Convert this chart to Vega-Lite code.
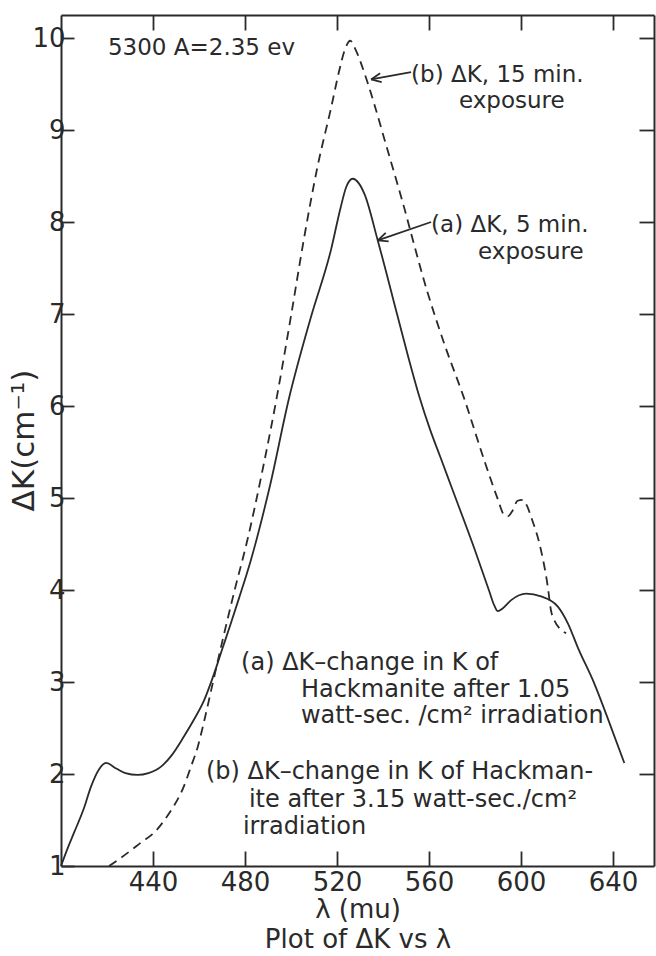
{
  "$schema": "https://vega.github.io/schema/vega-lite/v6.json",
  "width": 593,
  "height": 851,
  "autosize": {"type": "none"},
  "padding": {"left": 61, "top": 15, "right": 2, "bottom": 90},
  "background": "white",
  "config": {
    "view": {"stroke": null},
    "font": "DejaVu Sans",
    "axis": {
      "domainColor": "#2a2a2a", "domainWidth": 2, "tickColor": "#2a2a2a", "tickWidth": 1.8,
      "labelColor": "#2a2a2a", "titleColor": "#2a2a2a", "grid": false,
      "labelFont": "DejaVu Sans", "titleFont": "DejaVu Sans", "titleFontWeight": "normal"
    }
  },
  "datasets": {
    "curves": [
      {"wl": 400, "dk": 1.0, "series": "a"}, {"wl": 403, "dk": 1.2, "series": "a"}, {"wl": 405.8, "dk": 1.37, "series": "a"},
      {"wl": 410, "dk": 1.63, "series": "a"}, {"wl": 413, "dk": 1.86, "series": "a"}, {"wl": 416.5, "dk": 2.05, "series": "a"},
      {"wl": 419.6, "dk": 2.12, "series": "a"}, {"wl": 424, "dk": 2.06, "series": "a"}, {"wl": 428, "dk": 2.01, "series": "a"},
      {"wl": 433.3, "dk": 1.99, "series": "a"}, {"wl": 438, "dk": 2.01, "series": "a"}, {"wl": 443.5, "dk": 2.08, "series": "a"},
      {"wl": 448, "dk": 2.2, "series": "a"}, {"wl": 453.5, "dk": 2.41, "series": "a"}, {"wl": 458, "dk": 2.6, "series": "a"},
      {"wl": 462.2, "dk": 2.8, "series": "a"}, {"wl": 466, "dk": 3.05, "series": "a"}, {"wl": 470, "dk": 3.35, "series": "a"},
      {"wl": 474, "dk": 3.65, "series": "a"}, {"wl": 477.5, "dk": 3.92, "series": "a"}, {"wl": 482.6, "dk": 4.33, "series": "a"},
      {"wl": 491, "dk": 5.15, "series": "a"}, {"wl": 499, "dk": 6.07, "series": "a"}, {"wl": 508.7, "dk": 6.97, "series": "a"},
      {"wl": 517.4, "dk": 7.7, "series": "a"}, {"wl": 521.5, "dk": 8.15, "series": "a"}, {"wl": 524, "dk": 8.38, "series": "a"},
      {"wl": 526.8, "dk": 8.47, "series": "a"}, {"wl": 529.5, "dk": 8.42, "series": "a"}, {"wl": 532, "dk": 8.3, "series": "a"},
      {"wl": 537.7, "dk": 7.8, "series": "a"}, {"wl": 546.4, "dk": 6.97, "series": "a"}, {"wl": 551, "dk": 6.53, "series": "a"},
      {"wl": 555.8, "dk": 6.1, "series": "a"}, {"wl": 560.5, "dk": 5.74, "series": "a"}, {"wl": 565, "dk": 5.44, "series": "a"},
      {"wl": 569.6, "dk": 5.13, "series": "a"}, {"wl": 580, "dk": 4.43, "series": "a"}, {"wl": 586, "dk": 4.0, "series": "a"},
      {"wl": 588.4, "dk": 3.83, "series": "a"}, {"wl": 589.9, "dk": 3.77, "series": "a"}, {"wl": 592, "dk": 3.8, "series": "a"},
      {"wl": 595.7, "dk": 3.89, "series": "a"}, {"wl": 602.2, "dk": 3.96, "series": "a"}, {"wl": 608.7, "dk": 3.93, "series": "a"},
      {"wl": 616, "dk": 3.82, "series": "a"}, {"wl": 620.5, "dk": 3.63, "series": "a"}, {"wl": 624.6, "dk": 3.38, "series": "a"},
      {"wl": 631.9, "dk": 2.98, "series": "a"}, {"wl": 639.1, "dk": 2.51, "series": "a"}, {"wl": 644.9, "dk": 2.12, "series": "a"},
      {"wl": 420.9, "dk": 1.0, "series": "b"}, {"wl": 425, "dk": 1.07, "series": "b"}, {"wl": 430.4, "dk": 1.17, "series": "b"},
      {"wl": 435, "dk": 1.26, "series": "b"}, {"wl": 440.4, "dk": 1.36, "series": "b"}, {"wl": 445, "dk": 1.5, "series": "b"},
      {"wl": 449, "dk": 1.65, "series": "b"}, {"wl": 453, "dk": 1.84, "series": "b"}, {"wl": 456.5, "dk": 2.08, "series": "b"},
      {"wl": 459.5, "dk": 2.3, "series": "b"}, {"wl": 462, "dk": 2.55, "series": "b"}, {"wl": 466, "dk": 2.99, "series": "b"},
      {"wl": 470.3, "dk": 3.46, "series": "b"}, {"wl": 475.5, "dk": 4.0, "series": "b"}, {"wl": 481, "dk": 4.54, "series": "b"},
      {"wl": 488, "dk": 5.35, "series": "b"}, {"wl": 494, "dk": 6.12, "series": "b"}, {"wl": 500, "dk": 6.98, "series": "b"},
      {"wl": 505.5, "dk": 7.8, "series": "b"}, {"wl": 511.5, "dk": 8.6, "series": "b"}, {"wl": 517.5, "dk": 9.25, "series": "b"},
      {"wl": 521, "dk": 9.65, "series": "b"}, {"wl": 523.5, "dk": 9.88, "series": "b"}, {"wl": 525.7, "dk": 9.97, "series": "b"},
      {"wl": 528.3, "dk": 9.86, "series": "b"}, {"wl": 531.9, "dk": 9.62, "series": "b"}, {"wl": 536.2, "dk": 9.28, "series": "b"},
      {"wl": 540.6, "dk": 8.9, "series": "b"}, {"wl": 547.8, "dk": 8.28, "series": "b"}, {"wl": 559.4, "dk": 7.23, "series": "b"},
      {"wl": 567, "dk": 6.65, "series": "b"}, {"wl": 575.3, "dk": 6.08, "series": "b"}, {"wl": 584, "dk": 5.41, "series": "b"},
      {"wl": 590, "dk": 4.98, "series": "b"}, {"wl": 592.5, "dk": 4.82, "series": "b"}, {"wl": 594.2, "dk": 4.8, "series": "b"},
      {"wl": 596, "dk": 4.85, "series": "b"}, {"wl": 598.5, "dk": 4.97, "series": "b"}, {"wl": 600.7, "dk": 4.98, "series": "b"},
      {"wl": 602.5, "dk": 4.92, "series": "b"}, {"wl": 604.3, "dk": 4.8, "series": "b"}, {"wl": 608.7, "dk": 4.43, "series": "b"},
      {"wl": 611.6, "dk": 4.04, "series": "b"}, {"wl": 613, "dk": 3.78, "series": "b"}, {"wl": 614.5, "dk": 3.67, "series": "b"},
      {"wl": 619.6, "dk": 3.53, "series": "b"}
    ],
    "upper": [
      {"wl": 420.4, "dk": 9.82, "text": "5300 A=2.35 ev"},
      {"wl": 552.2, "dk": 9.52, "text": "(b) ΔK, 15 min."},
      {"wl": 573, "dk": 9.24, "text": "exposure"},
      {"wl": 560.9, "dk": 7.89, "text": "(a) ΔK, 5 min."},
      {"wl": 581.3, "dk": 7.6, "text": "exposure"}
    ],
    "lower": [
      {"wl": 478.3, "dk": 3.13, "text": "(a) ΔK–change in K of"},
      {"wl": 504.3, "dk": 2.84, "text": "Hackmanite after 1.05"},
      {"wl": 504.3, "dk": 2.55, "text": "watt-sec. /cm² irradiation"},
      {"wl": 463, "dk": 1.95, "text": "(b) ΔK–change in K of Hackman-"},
      {"wl": 481.7, "dk": 1.64, "text": "ite after 3.15 watt-sec./cm²"},
      {"wl": 479.1, "dk": 1.35, "text": "irradiation"}
    ],
    "arrows": [
      {"id": "a", "x0": 560.9, "y0": 8.0, "x1": 537.7, "y1": 7.8},
      {"id": "b", "x0": 552.2, "y0": 9.63, "x1": 534.8, "y1": 9.55}
    ]
  },
  "layer": [
    {
      "data": {"name": "curves"},
      "transform": [{"filter": "datum.series === 'a'"}],
      "mark": {"type": "line", "interpolate": "monotone", "stroke": "#2a2a2a", "strokeWidth": 1.8},
      "encoding": {
        "x": {"field": "wl", "type": "quantitative",
          "scale": {"domain": [400, 657.8], "nice": false, "zero": false},
          "axis": {"orient": "bottom", "values": [440, 480, 520, 560, 600, 640], "tickSize": -15,
            "labelFontSize": 26, "labelPadding": 18, "labelFlush": false,
            "title": ["λ (mu)", "Plot of ΔK vs λ"], "titleFontSize": 26, "titleLineHeight": 30,
            "titleY": 51, "titleBaseline": "alphabetic"}},
        "y": {"field": "dk", "type": "quantitative",
          "scale": {"domain": [1, 10.25], "nice": false, "zero": false},
          "axis": {"orient": "left", "values": [1, 2, 3, 4, 5, 6, 7, 8, 9, 10], "tickSize": -13,
            "labelFontSize": 26, "labelPadding": 9, "labelFlush": false,
            "title": "ΔK(cm⁻¹)", "titleFontSize": 31, "titleAngle": -90, "titleX": -28, "titleY": 425,
            "titleAlign": "center", "titleBaseline": "alphabetic"}}
      }
    },
    {
      "data": {"name": "curves"},
      "transform": [{"filter": "datum.series === 'b'"}],
      "mark": {"type": "line", "interpolate": "monotone", "stroke": "#2a2a2a", "strokeWidth": 1.8, "strokeDash": [9, 6]},
      "encoding": {
        "x": {"field": "wl", "type": "quantitative",
          "axis": {"orient": "top", "values": [440, 480, 520, 560, 600, 640], "tickSize": -15, "labels": false, "title": null}},
        "y": {"field": "dk", "type": "quantitative",
          "axis": {"orient": "right", "values": [2, 3, 4, 5, 6, 7, 8, 9, 10], "tickSize": -15, "labels": false, "title": null}}
      }
    },
    {
      "data": {"name": "upper"},
      "mark": {"type": "text", "align": "left", "baseline": "alphabetic", "fontSize": 23, "color": "#2a2a2a", "font": "DejaVu Sans"},
      "encoding": {
        "x": {"field": "wl", "type": "quantitative", "axis": null},
        "y": {"field": "dk", "type": "quantitative", "axis": null},
        "text": {"field": "text"}
      }
    },
    {
      "data": {"name": "lower"},
      "mark": {"type": "text", "align": "left", "baseline": "alphabetic", "fontSize": 24, "color": "#2a2a2a", "font": "DejaVu Sans"},
      "encoding": {
        "x": {"field": "wl", "type": "quantitative", "axis": null},
        "y": {"field": "dk", "type": "quantitative", "axis": null},
        "text": {"field": "text"}
      }
    },
    {
      "data": {"name": "arrows"},
      "mark": {"type": "rule", "stroke": "#2a2a2a", "strokeWidth": 1.8},
      "encoding": {
        "x": {"field": "x0", "type": "quantitative", "axis": null},
        "y": {"field": "y0", "type": "quantitative", "axis": null},
        "x2": {"field": "x1"},
        "y2": {"field": "y1"}
      }
    },
    {
      "data": {"name": "arrows"},
      "transform": [{"filter": "datum.id === 'a'"}],
      "mark": {"type": "point", "shape": "M0,0L1,-0.45M0,0L1,0.45", "size": 400, "filled": false, "stroke": "#2a2a2a", "strokeWidth": 1.8, "angle": -19, "opacity": 1},
      "encoding": {
        "x": {"field": "x1", "type": "quantitative", "axis": null},
        "y": {"field": "y1", "type": "quantitative", "axis": null}
      }
    },
    {
      "data": {"name": "arrows"},
      "transform": [{"filter": "datum.id === 'b'"}],
      "mark": {"type": "point", "shape": "M0,0L1,-0.45M0,0L1,0.45", "size": 400, "filled": false, "stroke": "#2a2a2a", "strokeWidth": 1.8, "angle": -10, "opacity": 1},
      "encoding": {
        "x": {"field": "x1", "type": "quantitative", "axis": null},
        "y": {"field": "y1", "type": "quantitative", "axis": null}
      }
    }
  ],
  "resolve": {"axis": {"x": "independent", "y": "independent"}}
}
